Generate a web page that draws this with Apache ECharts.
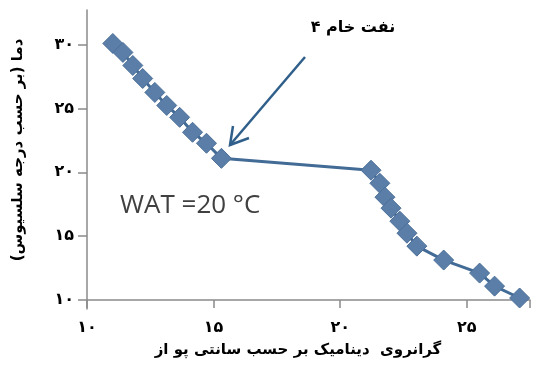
<!DOCTYPE html>
<html>
<head>
<meta charset="utf-8">
<script src="https://cdn.jsdelivr.net/npm/echarts@6/dist/echarts.min.js"></script>
<style>html,body{margin:0;padding:0;background:#fff}#c{width:533px;height:374px}</style>
</head>
<body>
<div id="c"></div>
<script>
// Data
const viscosity = [11.02, 11.42, 11.81, 12.20, 12.68, 13.15, 13.66, 14.17, 14.72, 15.31,
                   21.22, 21.57, 21.77, 22.01, 22.36, 22.64, 23.03, 24.09, 25.51, 26.10, 27.09];
const temperature = [30.08, 29.38, 28.36, 27.34, 26.25, 25.23, 24.30, 23.13, 22.27, 21.09,
                     20.16, 19.14, 18.05, 17.19, 16.17, 15.23, 14.22, 13.13, 12.11, 11.09, 10.16];
const xTicks = [10, 15, 20, 25];
const yTicks = [10, 15, 20, 25, 30];
const xName = 'گرانروی  دینامیک بر حسب سانتی پو از';
const yName = 'دما (بر حسب درجه سلسیوس)';
const noteText = 'نفت خام ۴';
const watText = 'WAT =20 °C';

const fa = v => String(v).replace(/\d/g, d => '۰۱۲۳۴۵۶۷۸۹'[d]);
const FONT = '"DejaVu Sans", "Noto Sans", sans-serif';

const chart = echarts.init(document.getElementById('c'), null, {renderer: 'canvas'});
chart.setOption({
  animation: false,
  grid: {left: 87, right: 2, top: 10, bottom: 65},
  xAxis: {
    type: 'value', min: 10, max: 27.5, interval: 5, offset: -9,
    splitLine: {show: false},
    axisLine: {lineStyle: {color: '#8a8a8a', width: 1.5}},
    axisTick: {length: 8, lineStyle: {color: '#8a8a8a', width: 1.5}},
    axisLabel: {
      margin: 20, color: '#000', fontSize: 16, fontWeight: 'bold', fontFamily: FONT,
      formatter: v => xTicks.includes(v) ? fa(v) : ''
    }
  },
  yAxis: {
    type: 'value', min: 9.3, max: 32.7,
    splitLine: {show: false},
    axisLine: {show: true, lineStyle: {color: '#8a8a8a', width: 1.5}},
    axisTick: {show: true, length: 9, customValues: yTicks, lineStyle: {color: '#8a8a8a', width: 1.5}},
    axisLabel: {
      margin: 13, color: '#000', fontSize: 16, fontWeight: 'bold', fontFamily: FONT,
      customValues: yTicks, formatter: v => fa(v)
    }
  },
  series: [{
    type: 'line',
    data: viscosity.map((x, i) => [x, temperature[i]]),
    symbol: 'diamond',
    symbolSize: 20,
    lineStyle: {color: '#426b96', width: 3},
    itemStyle: {color: '#5a7ea8', borderColor: '#4b6f98', borderWidth: 1}
  }],
  graphic: [
    {type: 'text', x: 18, y: 150, rotation: Math.PI / 2,
     style: {text: yName, fill: '#000', font: 'bold 15px ' + FONT, align: 'center', verticalAlign: 'middle'}},
    {type: 'text', x: 298, y: 350,
     style: {text: xName, fill: '#000', font: 'bold 15px ' + FONT, align: 'center', verticalAlign: 'middle'}},
    {type: 'text', x: 353, y: 28,
     style: {text: noteText, fill: '#000', font: 'bold 16px ' + FONT, align: 'center', verticalAlign: 'middle'}},
    {type: 'text', x: 120, y: 206,
     style: {text: watText, fill: '#404040', font: '26px "Open Sans", sans-serif', align: 'left', verticalAlign: 'middle'}},
    {type: 'polyline', shape: {points: [[305, 57], [230, 145]]},
     style: {stroke: '#2f5f8a', lineWidth: 2.5}},
    {type: 'polyline', shape: {points: [[233, 126], [230, 145], [249, 138]]},
     style: {stroke: '#2f5f8a', lineWidth: 2.5, fill: null}}
  ]
});
</script>
</body>
</html>
